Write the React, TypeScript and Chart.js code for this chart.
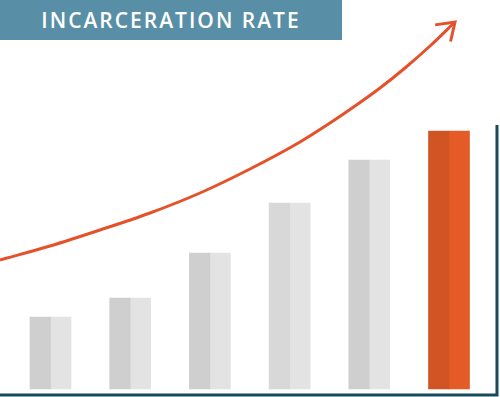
import React, { useEffect, useRef } from "react";
import { Chart, registerables } from "chart.js";

Chart.register(...registerables);

// Six periods, bars placed at category positions 1..6
const positions = [1, 2, 3, 4, 5, 6];
const rateValues = [72, 91, 136, 186, 229, 258];
const shadeColors = ["#cfcfcf", "#cfcfcf", "#cfcfcf", "#d8d8d8", "#cfcfcf", "#d05424"];
const lightColors = ["#e3e3e3", "#e3e3e3", "#e3e3e3", "#e3e3e3", "#e3e3e3", "#e55b27"];

// Trend arrow (x in category units, y in rate units)
const trendX = [0.3664, 0.9937, 1.6211, 2.2484, 2.8758, 3.5031, 4.1305, 4.5069, 4.8206, 5.1343, 5.448, 5.7616, 6.0753];
const trendY = [129, 143, 159, 176, 196, 220, 247, 266, 283, 301, 321, 343, 367];

// Axis frame (bottom baseline and right-hand rule)
const frameX = [0.366, 6.602, 6.602];
const frameY = [-6, -6, 264];

const X_MIN = 0.3664;
const X_MAX = 6.6399;
const Y_MIN = -8;
const Y_MAX = 389;

const arrowHead = {
  id: "arrowHead",
  afterDatasetsDraw(chart: any) {
    const meta = chart.getDatasetMeta(2);
    const pts = meta.data;
    if (!pts || pts.length < 2) return;
    const a = pts[pts.length - 2];
    const b = pts[pts.length - 1];
    const ang = Math.atan2(b.y - a.y, b.x - a.x) + 0.02;
    const len = 20;
    const spread = 0.6;
    const ctx = chart.ctx;
    ctx.save();
    ctx.strokeStyle = "#e4512a";
    ctx.lineWidth = 3;
    ctx.lineCap = "butt";
    ctx.lineJoin = "miter";
    ctx.beginPath();
    ctx.moveTo(b.x - len * Math.cos(ang - spread), b.y - len * Math.sin(ang - spread));
    ctx.lineTo(b.x, b.y);
    ctx.lineTo(b.x - len * Math.cos(ang + spread), b.y - len * Math.sin(ang + spread));
    ctx.stroke();
    ctx.restore();
  },
};

export default function App() {
  const ref = useRef<HTMLCanvasElement | null>(null);

  useEffect(() => {
    if (!ref.current) return;
    const chart = new Chart(ref.current, {
      data: {
        datasets: [
          {
            type: "bar",
            label: "Rate (shade)",
            data: positions.map((x, i) => ({ x, y: rateValues[i] })),
            backgroundColor: shadeColors,
            barThickness: 20.5,
            borderWidth: 0,
            order: 2,
          },
          {
            type: "bar",
            label: "Rate",
            data: positions.map((x, i) => ({ x, y: rateValues[i] })),
            backgroundColor: lightColors,
            barThickness: 20.5,
            borderWidth: 0,
            order: 2,
          },
          {
            type: "line",
            label: "Trend",
            data: trendX.map((x, i) => ({ x, y: trendY[i] })),
            borderColor: "#e4512a",
            borderWidth: 3,
            pointRadius: 0,
            cubicInterpolationMode: "monotone",
            fill: false,
            clip: false,
            order: 1,
          },
          {
            type: "line",
            label: "Frame",
            data: frameX.map((x, i) => ({ x, y: frameY[i] })),
            borderColor: "#1b4a5d",
            borderWidth: 3,
            pointRadius: 0,
            tension: 0,
            borderJoinStyle: "miter",
            fill: false,
            clip: false,
            order: 0,
          },
        ],
      } as any,
      options: {
        responsive: false,
        animation: false,
        layout: { padding: 0 },
        plugins: {
          legend: { display: false },
          tooltip: { enabled: false },
          title: { display: false },
        },
        scales: {
          x: { type: "linear", min: X_MIN, max: X_MAX, offset: false, display: false },
          y: { type: "linear", min: Y_MIN, max: Y_MAX, offset: false, display: false },
        },
      } as any,
      plugins: [arrowHead],
    });
    return () => chart.destroy();
  }, []);

  return (
    <div style={{ position: "fixed", left: 0, top: 0, width: 500, height: 397, background: "#fff" }}>
      <canvas ref={ref} width={500} height={397} style={{ display: "block" }} />
      <div
        style={{
          position: "absolute",
          left: 0,
          top: 0,
          width: 342,
          height: 40,
          background: "#588fa7",
          color: "#ffffff",
          fontFamily: "'Open Sans', sans-serif",
          fontWeight: 600,
          fontSize: 21,
          letterSpacing: 2,
          lineHeight: "40px",
          textAlign: "center",
          whiteSpace: "nowrap",
        }}
      >
        INCARCERATION RATE
      </div>
    </div>
  );
}
